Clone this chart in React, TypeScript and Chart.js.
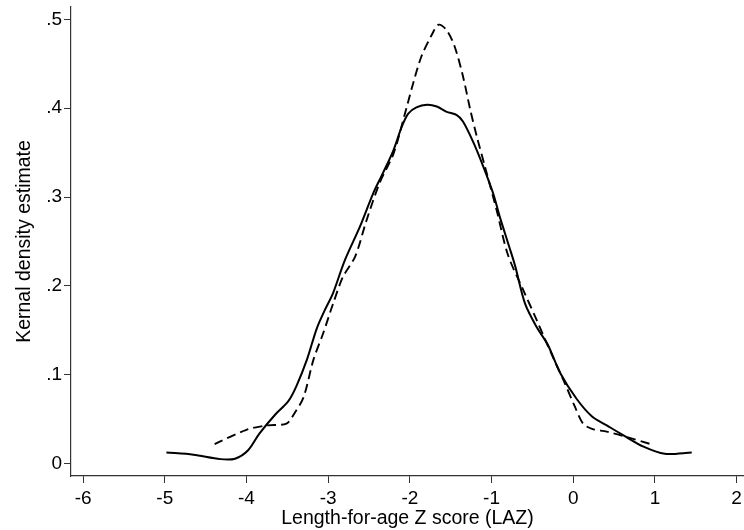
import React, { useEffect, useRef } from "react";
import { Chart, registerables } from "chart.js";

Chart.register(...registerables);

// Solid curve (x, density)
const solidX = [-4.98, -4.65, -4.32, -4.14, -3.98, -3.84, -3.65, -3.49, -3.39, -3.26, -3.14, -3.04, -2.94, -2.8, -2.61, -2.45, -2.33, -2.2, -2.1, -2.02, -1.92, -1.79, -1.67, -1.55, -1.43, -1.35, -1.22, -1.1, -0.98, -0.9, -0.78, -0.71, -0.59, -0.45, -0.31, -0.16, 0.04, 0.23, 0.41, 0.61, 0.86, 1.12, 1.45];
const solidY = [0.0125, 0.01, 0.005, 0.0055, 0.015, 0.034, 0.055, 0.07, 0.087, 0.117, 0.152, 0.173, 0.192, 0.228, 0.267, 0.304, 0.327, 0.353, 0.379, 0.394, 0.401, 0.404, 0.402, 0.396, 0.3925, 0.385, 0.361, 0.334, 0.304, 0.278, 0.243, 0.222, 0.18, 0.154, 0.1335, 0.102, 0.073, 0.053, 0.043, 0.032, 0.019, 0.011, 0.0125];

// Dashed curve (x, density)
const dashedX = [-4.39, -4.0, -3.75, -3.51, -3.41, -3.3, -3.18, -3.06, -2.94, -2.82, -2.67, -2.53, -2.37, -2.2, -2.06, -1.96, -1.86, -1.73, -1.65, -1.55, -1.45, -1.35, -1.26, -1.18, -1.08, -0.94, -0.8, -0.61, -0.45, -0.25, -0.12, 0.02, 0.12, 0.23, 0.41, 0.65, 0.98];
const dashedY = [0.022, 0.038, 0.043, 0.045, 0.057, 0.075, 0.117, 0.147, 0.18, 0.21, 0.233, 0.274, 0.316, 0.349, 0.394, 0.428, 0.458, 0.483, 0.494, 0.488, 0.469, 0.436, 0.398, 0.368, 0.334, 0.286, 0.235, 0.195, 0.162, 0.12, 0.094, 0.064, 0.045, 0.039, 0.036, 0.03, 0.021];

const xTicks = [-6, -5, -4, -3, -2, -1, 0, 1, 2];
const yTicks = [0, 0.1, 0.2, 0.3, 0.4, 0.5];

const xTitle = "Length-for-age Z score (LAZ)";
const yTitle = "Kernal density estimate";

const FONT = "'Liberation Sans', Arial, Helvetica, sans-serif";

export default function App() {
  const ref = useRef<HTMLCanvasElement | null>(null);

  useEffect(() => {
    if (!ref.current) return;
    const solid = solidX.map((x, i) => ({ x, y: solidY[i] }));
    const dashed = dashedX.map((x, i) => ({ x, y: dashedY[i] }));
    const chart = new Chart(ref.current, {
      type: "scatter",
      data: {
        datasets: [
          {
            data: solid,
            showLine: true,
            borderColor: "#000",
            borderWidth: 2,
            pointRadius: 0,
            tension: 0.3,
          },
          {
            data: dashed,
            showLine: true,
            borderColor: "#000",
            borderWidth: 1.9,
            borderDash: [9, 5],
            pointRadius: 0,
            tension: 0.3,
          },
        ],
      },
      options: {
        animation: false,
        responsive: true,
        maintainAspectRatio: false,
        layout: { padding: { top: 7, left: 0, right: 0, bottom: 0 } },
        plugins: { legend: { display: false }, tooltip: { enabled: false } },
        scales: {
          x: {
            type: "linear",
            min: -6.148,
            max: 2.09,
            afterBuildTicks: (axis: any) => {
              axis.ticks = xTicks.map((v) => ({ value: v }));
            },
            afterFit: (scale: any) => {
              scale.height = 54;
              scale.paddingLeft = 0;
              scale.paddingRight = 0;
            },
            grid: {
              display: true,
              drawOnChartArea: false,
              drawTicks: true,
              tickLength: 7,
              color: "#333",
              lineWidth: 1,
            },
            border: { display: true, color: "#333", width: 1.2 },
            ticks: {
              color: "#000",
              padding: 4,
              maxRotation: 0,
              autoSkip: false,
              font: { family: FONT, size: 19 },
              callback: (v: any) => String(v),
            },
            title: {
              display: true,
              text: xTitle,
              color: "#000",
              font: { family: FONT, size: 19.5 },
              padding: { top: 0, bottom: 0 },
            },
          },
          y: {
            type: "linear",
            min: -0.014,
            max: 0.514,
            afterBuildTicks: (axis: any) => {
              axis.ticks = yTicks.map((v) => ({ value: v }));
            },
            afterFit: (scale: any) => {
              scale.width = 71;
              scale.paddingTop = 0;
              scale.paddingBottom = 0;
            },
            grid: {
              display: true,
              drawOnChartArea: false,
              drawTicks: true,
              tickLength: 7,
              color: "#333",
              lineWidth: 1,
            },
            border: { display: true, color: "#333", width: 1.2 },
            ticks: {
              color: "#000",
              padding: 2,
              autoSkip: false,
              font: { family: FONT, size: 19 },
              callback: (v: any) => {
                const n = Number(v);
                if (Math.abs(n) < 1e-9) return "0";
                return n.toFixed(1).replace(/^0/, "");
              },
            },
            title: {
              display: true,
              text: yTitle,
              color: "#000",
              font: { family: FONT, size: 19.5 },
              padding: { top: 13, bottom: 0 },
            },
          },
        },
      },
    });
    return () => chart.destroy();
  }, []);

  return (
    <div style={{ position: "fixed", left: 0, top: 0, width: 744, height: 530, background: "#fff" }}>
      <canvas ref={ref} />
    </div>
  );
}
